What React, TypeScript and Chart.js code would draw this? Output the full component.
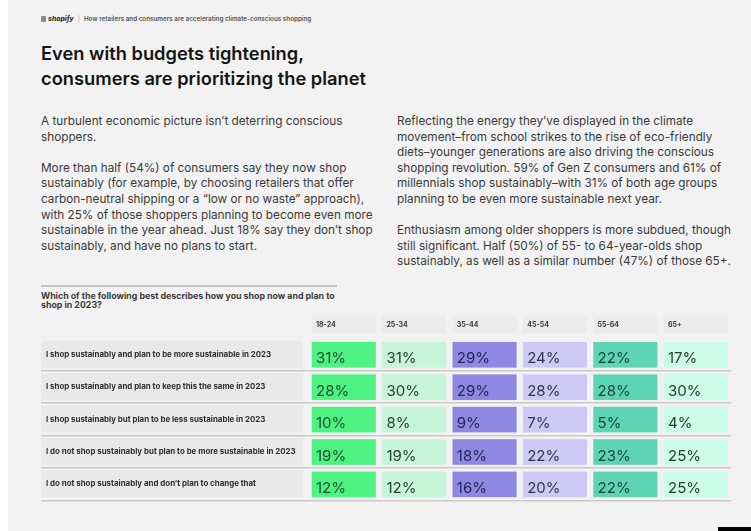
import React, { useEffect, useRef } from "react";
import { Chart, registerables } from "chart.js";

Chart.register(...registerables);

// ---------- data ----------
const ageGroups = ["18-24", "25-34", "35-44", "45-54", "55-64", "65+"];
const statements = [
  "I shop sustainably and plan to be more sustainable in 2023",
  "I shop sustainably and plan to keep this the same in 2023",
  "I shop sustainably but plan to be less sustainable in 2023",
  "I do not shop sustainably but plan to be more sustainable in 2023",
  "I do not shop sustainably and don\u2019t plan to change that",
];
const age18to24 = [31, 28, 10, 19, 12];
const age25to34 = [31, 30, 8, 19, 12];
const age35to44 = [29, 29, 9, 18, 16];
const age45to54 = [24, 28, 7, 22, 20];
const age55to64 = [22, 28, 5, 23, 22];
const age65plus = [17, 30, 4, 25, 25];
const columnValues = [age18to24, age25to34, age35to44, age45to54, age55to64, age65plus];

const cellColors = ["#4df282", "#c6f6d7", "#8f88e2", "#cec8f6", "#5dd4b3", "#cafbe9"];
const textColors = ["#1f4f2e", "#2c3f33", "#28245a", "#35324a", "#1c4539", "#2c3a35"];

const FONT = "Inter, 'Noto Sans', sans-serif";

const tablePlugin = {
  id: "tableCells",
  beforeDraw(chart: any) {
    const { ctx, chartArea } = chart;
    const x = chart.scales.x;
    const y = chart.scales.y;
    const colW = Math.abs(x.getPixelForValue(1) - x.getPixelForValue(0));
    const rowH = Math.abs(y.getPixelForValue(1) - y.getPixelForValue(0));
    ctx.save();
    ageGroups.forEach((_, i) => {
      const cx = x.getPixelForValue(i);
      ctx.fillStyle = "#ebebeb";
      ctx.fillRect(cx - colW / 2 + 2.7, chartArea.top - 21.6, colW - 6.3, 16.6);
    });
    statements.forEach((_, j) => {
      const cy = y.getPixelForValue(j);
      ctx.fillStyle = "#e9e9e9";
      ctx.fillRect(y.left - 5, cy - rowH / 2 + 2.5, y.right - 6 - (y.left - 5), rowH - 5.5);
    });
    ctx.restore();
  },
  afterDatasetsDraw(chart: any) {
    const { ctx } = chart;
    const x = chart.scales.x;
    const y = chart.scales.y;
    const colW = Math.abs(x.getPixelForValue(1) - x.getPixelForValue(0));
    const rowH = Math.abs(y.getPixelForValue(1) - y.getPixelForValue(0));
    ctx.save();
    chart.data.datasets.forEach((ds: any, i: number) => {
      const meta = chart.getDatasetMeta(i);
      meta.data.forEach((pt: any, j: number) => {
        const left = pt.x - colW / 2 + 2.7;
        const top = pt.y - rowH / 2 + 3.7;
        const w = colW - 6.3;
        const h = rowH - 6.8;
        ctx.fillStyle = cellColors[i];
        ctx.fillRect(left, top, w, h);
        ctx.fillStyle = textColors[i];
        ctx.font = `400 15px ${FONT}`;
        ctx.textAlign = "left";
        ctx.textBaseline = "alphabetic";
        ctx.fillText(`${ds.data[j].v}%`, left + 4.3, top + h - 4.3);
      });
    });
    ctx.restore();
  },
};

function TableChart() {
  const ref = useRef<HTMLCanvasElement | null>(null);
  useEffect(() => {
    if (!ref.current) return;
    const chart = new Chart(ref.current, {
      type: "scatter",
      data: {
        datasets: ageGroups.map((age, i) => ({
          label: age,
          data: statements.map((s, j) => ({ x: age, y: s, v: columnValues[i][j] })),
          pointRadius: 0,
          pointHoverRadius: 0,
        })) as any,
      },
      options: {
        animation: false,
        responsive: false,
        devicePixelRatio: 1,
        events: [],
        layout: { padding: { left: 46, right: 19.6, top: 0, bottom: 11.7 } },
        plugins: { legend: { display: false }, tooltip: { enabled: false } },
        scales: {
          x: {
            type: "category",
            labels: ageGroups,
            position: "top",
            offset: true,
            grid: { display: false, drawTicks: false },
            border: { display: false },
            ticks: {
              align: "start",
              labelOffset: -28.2,
              padding: 9,
              maxRotation: 0,
              autoSkip: false,
              color: "#3a3a3a",
              font: { family: FONT, size: 7, weight: "bold" },
            },
            afterFit: (scale: any) => {
              scale.height = 26.3;
            },
          },
          y: {
            type: "category",
            labels: statements,
            offset: true,
            grid: {
              offset: true,
              drawOnChartArea: true,
              drawTicks: true,
              tickLength: 268,
              lineWidth: 1.5,
              color: (c: any) => (c.index === 0 || c.index === statements.length ? "rgba(0,0,0,0)" : "#c9c9c9"),
            },
            border: { display: false },
            ticks: {
              crossAlign: "far",
              autoSkip: false,
              color: "#2e2e2e",
              font: { family: FONT, size: 7.9, weight: "bold" },
            },
            afterFit: (scale: any) => {
              scale.width = 263;
            },
          },
        },
      } as any,
      plugins: [tablePlugin],
    });
    return () => chart.destroy();
  }, []);
  return (
    <canvas
      ref={ref}
      width={751}
      height={200}
      style={{ position: "absolute", left: 0, top: 312, width: 751, height: 200 }}
    />
  );
}

const leftP1 = ["A turbulent economic picture isn\u2019t deterring conscious", "shoppers."];
const leftP2 = [
  "More than half (54%) of consumers say they now shop",
  "sustainably (for example, by choosing retailers that offer",
  "carbon-neutral shipping or a \u201clow or no waste\u201d approach),",
  "with 25% of those shoppers planning to become even more",
  "sustainable in the year ahead. Just 18% say they don\u2019t shop",
  "sustainably, and have no plans to start.",
];
const rightP1 = [
  "Reflecting the energy they\u2019ve displayed in the climate",
  "movement\u2013from school strikes to the rise of eco-friendly",
  "diets\u2013younger generations are also driving the conscious",
  "shopping revolution. 59% of Gen Z consumers and 61% of",
  "millennials shop sustainably\u2013with 31% of both age groups",
  "planning to be even more sustainable next year.",
];
const rightP2 = [
  "Enthusiasm among older shoppers is more subdued, though",
  "still significant. Half (50%) of 55- to 64-year-olds shop",
  "sustainably, as well as a similar number (47%) of those 65+.",
];

const para = (lines: string[], mt: number) => (
  <div style={{ marginTop: mt }}>
    {lines.map((l, i) => (
      <div key={i} style={{ whiteSpace: "nowrap" }}>
        {l}
      </div>
    ))}
  </div>
);

export default function App() {
  useEffect(() => {
    document.body.style.margin = "0";
    document.body.style.background = "#ffffff";
  }, []);
  const textStyle: React.CSSProperties = {
    position: "absolute",
    top: 114,
    fontFamily: FONT,
    fontSize: 11.75,
    lineHeight: "15.6px",
    color: "#3a3a3a",
  };
  return (
    <div style={{ position: "relative", width: 751, height: 531, overflow: "hidden", background: "#ffffff" }}>
      <div style={{ position: "absolute", left: 8, top: 0, width: 743, height: 531, background: "#f2f2f2" }} />
      {/* header */}
      <div
        style={{
          position: "absolute",
          left: 41,
          top: 15,
          fontFamily: FONT,
          fontSize: 6.3,
          lineHeight: "8px",
          color: "#555",
          whiteSpace: "nowrap",
          display: "flex",
          alignItems: "center",
        }}
      >
        <span style={{ display: "inline-block", width: 5, height: 6, background: "#8a8a8a", borderRadius: 1, marginRight: 2 }} />
        <span style={{ fontWeight: 800, fontStyle: "italic", fontSize: 6.8, color: "#333" }}>shopify</span>
        <span style={{ margin: "0 4px", color: "#aaa" }}>|</span>
        <span style={{ fontWeight: 600 }}>How retailers and consumers are accelerating climate-conscious shopping</span>
      </div>
      {/* title */}
      <div
        style={{
          position: "absolute",
          left: 41,
          top: 41,
          fontFamily: FONT,
          fontSize: 18.3,
          fontWeight: 600,
          lineHeight: "25px",
          color: "#151515",
          whiteSpace: "nowrap",
        }}
      >
        <div>Even with budgets tightening,</div>
        <div>consumers are prioritizing the planet</div>
      </div>
      {/* paragraphs */}
      <div style={{ ...textStyle, left: 41 }}>
        {para(leftP1, 0)}
        {para(leftP2, 15.6)}
      </div>
      <div style={{ ...textStyle, left: 397 }}>
        {para(rightP1, 0)}
        {para(rightP2, 15.6)}
      </div>
      {/* rule + question */}
      <div style={{ position: "absolute", left: 41, top: 284.5, width: 296, height: 2, background: "#c6c6c6" }} />
      <div
        style={{
          position: "absolute",
          left: 41,
          top: 290.5,
          fontFamily: FONT,
          fontSize: 8.8,
          fontWeight: 700,
          lineHeight: "9.6px",
          color: "#3a3a3a",
          whiteSpace: "nowrap",
        }}
      >
        <div>Which of the following best describes how you shop now and plan to</div>
        <div>shop in 2023?</div>
      </div>
      <TableChart />
      <div style={{ position: "absolute", left: 718, top: 527, width: 33, height: 4, background: "#000" }} />
    </div>
  );
}
